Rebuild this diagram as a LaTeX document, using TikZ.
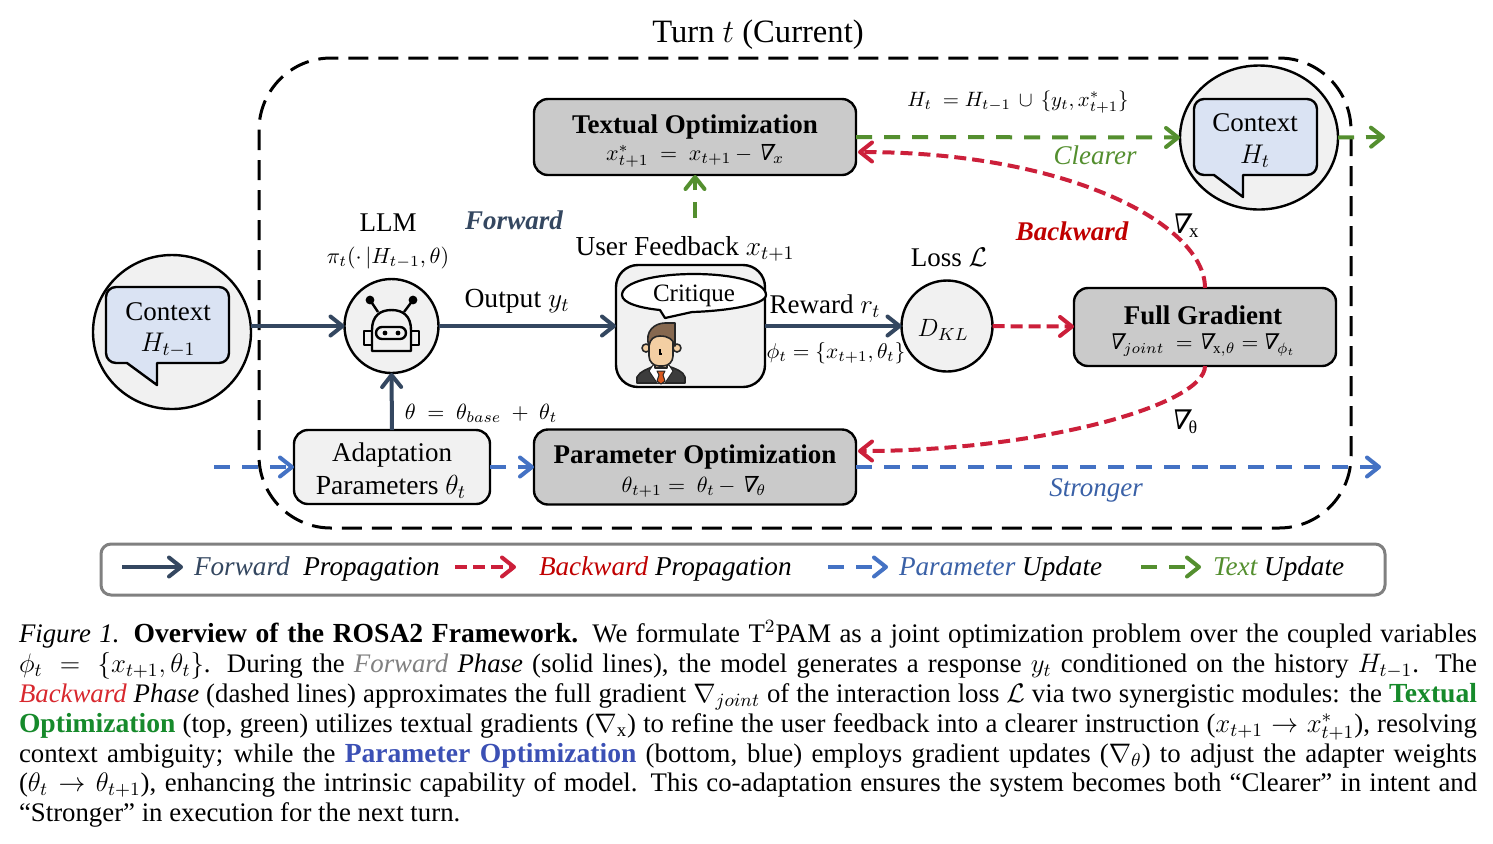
\RequirePackage{fix-cm}
\documentclass[tikz,border=0pt]{standalone}
\usepackage{fontspec}
\setmainfont{Liberation Serif}
\newfontfamily\nablaf[FakeSlant=0.22]{DejaVu Serif}
\usetikzlibrary{arrows.meta,shapes.geometric}
\definecolor{navy}{HTML}{344760}
\definecolor{redline}{HTML}{CC1F3A}
\definecolor{blueline}{HTML}{4472C4}
\definecolor{greenline}{HTML}{548F2F}
\definecolor{boxgray}{HTML}{CACACA}
\definecolor{softgray}{HTML}{F1F1F1}
\definecolor{bubbleblue}{HTML}{DAE3F3}
\definecolor{backred}{HTML}{C00000}
\definecolor{capgreen}{HTML}{168A2B}
\definecolor{capblue}{HTML}{3B50B5}
\definecolor{capred}{HTML}{D8282E}
\definecolor{capgray}{HTML}{808080}
\definecolor{skin}{HTML}{F3CFA3}
\definecolor{hair}{HTML}{86684F}
\definecolor{suit}{HTML}{3C3C3C}
\definecolor{tie}{HTML}{D9591F}
\newcommand{\fs}[1]{\fontsize{#1}{#1}\selectfont}
\newcommand{\gradsym}{\mbox{\nablaf\char"2207}}
\newcommand{\capline}[1]{\hbox to 729pt{#1}}
\newcommand{\capb}[1]{{\fs{13.8}\bfseries #1}}
\tikzset{
  tiphead/.style={-{Straight Barb[length=6pt,width=9.5pt,line width=2pt,round]}},
  fw/.style={tiphead,draw=navy,line width=2pt},
  backline/.style={tiphead,draw=redline,line width=2pt,dash pattern=on 6pt off 3pt},
  paramline/.style={tiphead,draw=blueline,line width=2pt,dash pattern=on 8pt off 6pt},
  txtline/.style={tiphead,draw=greenline,line width=2pt,dash pattern=on 8pt off 6pt},
  softbox/.style={draw=black,line width=1.2pt,fill=softgray,rounded corners=7pt,inner sep=0pt,outer sep=0pt},
  graybox/.style={draw=black,line width=1.2pt,fill=boxgray,rounded corners=7pt,inner sep=0pt,outer sep=0pt},
  disc/.style={draw=black,line width=1.2pt,fill=softgray,circle,inner sep=0pt,outer sep=0pt},
  oval/.style={draw=black,line width=1.2pt,fill=softgray,ellipse,inner sep=0pt,outer sep=0pt},
  bubble/.style={draw=black,line width=1.2pt,fill=bubbleblue,line join=round},
  lbl/.style={inner sep=0pt,outer sep=0pt,font=\fs{13.5}},
  lblsm/.style={inner sep=0pt,outer sep=0pt,font=\fs{11}},
  boxhead/.style={inner sep=0pt,outer sep=0pt,font=\fs{13.5}\bfseries},
  capnode/.style={inner sep=0pt,outer sep=0pt,anchor=base west,font=\fs{13.4}},
  legnode/.style={inner sep=0pt,outer sep=0pt,anchor=base west,font=\fs{13.6}\itshape},
  robot/.style={draw=black,line width=1.2pt,fill=softgray,line join=round},
  person/.style={draw=black!85,line width=.8pt,line join=round}
}
\begin{document}
\begin{tikzpicture}[x=.5pt,y=-.5pt]
\useasboundingbox (0,0) rectangle (1493,843);
\fill[white] (0,0) rectangle (1493,843);

% turn frame and its title
\draw[black,line width=1.5pt,dash pattern=on 10pt off 5pt,rounded corners=36pt] (259,58) rectangle (1351,528);
\node[lbl,font=\fs{16.3}] (title) at (758,35) {Turn $t$ (Current)};

% nodes of the loop
\node[oval,minimum width=79pt,minimum height=77pt] (ctxL) at (172,332) {};
\node[oval,minimum width=79pt,minimum height=72pt] (ctxR) at (1259,137.5) {};
\node[disc,minimum size=47pt] (llm) at (391.5,326) {};
\node[disc,minimum size=45.5pt] (loss) at (947,326) {};
\node[softbox,minimum width=98pt,minimum height=37pt] (adapt) at (392,467) {};
\node[softbox,rounded corners=11pt,minimum width=74.5pt,minimum height=61pt] (user) at (690.5,326) {};
\node[graybox,minimum width=161pt,minimum height=38pt] (tb) at (695,137) {};
\node[graybox,minimum width=161pt,minimum height=37.5pt] (po) at (695,467) {};
\node[graybox,minimum width=131pt,minimum height=39pt] (fg) at (1205,327) {};

\coordinate (greenOut) at (1385,137);
\coordinate (blueIn) at (214,467);
\coordinate (blueOut) at (1381,467);
\coordinate (feedUp) at (695,218);
\coordinate (txtIn) at (858,152);
\coordinate (parIn) at (858,451);

% connectors
\draw[fw] (llm -| ctxL.east) -- (llm);
\draw[fw] (llm) -- (user);
\draw[fw] (user) -- (loss);
\draw[fw] (adapt.north) -- (llm.south);
\draw[backline] (loss) -- (fg);
\draw[backline] (fg.north) .. controls (1205,225) and (1070,152) .. (txtIn);
\draw[backline] (fg.south) .. controls (1205,405) and (1040,451) .. (parIn);
\draw[txtline] (tb.east) -- (ctxR.west);
\draw[txtline] (ctxR.east) -- (greenOut);
\draw[txtline] (feedUp) -- (tb.south);
\draw[paramline] (blueIn) -- (adapt.west);
\draw[paramline] (adapt.east) -- (po.west);
\draw[paramline] (po.east) -- (blueOut);

% speech bubbles of the context nodes
\draw[bubble] (127,363) [rounded corners=5pt] -- (106,363) -- (106,287) -- (229,287) -- (229,363) -- (200,363) [sharp corners] -- (157,363) -- (157,385) -- cycle;
\draw[bubble] (1214,175) [rounded corners=5pt] -- (1194,175) -- (1194,99) -- (1317,99) -- (1317,175) -- (1290,175) [sharp corners] -- (1243,175) -- (1243,197) -- cycle;
\node[lbl] (ctxLa) at (168,312) {Context};
\node[lbl] (ctxLb) at (168,345) {$H_{t-1}$};
\node[lbl] (ctxRa) at (1255,123) {Context};
\node[lbl] (ctxRb) at (1255,156) {$H_t$};

% robot icon inside the model node
\draw[black,line width=1.2pt] (378,312) -- (370,300) (404,312) -- (413,300);
\fill[black] (370,300) circle (2.2pt) (413,300) circle (2.2pt);
\draw[robot] (364,331) rectangle (372,345);
\draw[robot] (411,331) rectangle (419,345);
\draw[robot] (372,351) -- (372,330) .. controls (372,316) and (380,310) .. (391.5,310) .. controls (403,310) and (411,316) .. (411,330) -- (411,351) -- cycle;
\draw[robot,rounded corners=3pt] (376,327) rectangle (406,339);
\fill[black] (385,333) circle (1.2pt) (398,333) circle (1.2pt);

% critique balloon and person inside the feedback node
\draw[draw=black,line width=1.1pt,fill=white,line join=round] (660,310) .. controls (640,308) and (622,303) .. (622,295) .. controls (622,282) and (655,274) .. (694,274) .. controls (733,274) and (766,282) .. (766,295) .. controls (766,305) and (725,311) .. (692,312) -- (665,318) -- cycle;
\node[lbl,font=\fs{12.5}] (crit) at (694,296) {Critique};
\draw[person,fill=suit] (637,383) -- (637,377) .. controls (640,371) and (648,369) .. (654,366) -- (668,366) .. controls (676,369) and (683,371) .. (685,377) -- (685,383) -- cycle;
\draw[person,fill=white,line width=.5pt] (653,365) -- (649,371) -- (657,383) -- (665,383) -- (673,371) -- (669,365) -- cycle;
\draw[person,fill=tie,line width=.5pt] (657,371) -- (665,371) -- (663,375) -- (665,381) -- (661,384) -- (657,381) -- (659,375) -- cycle;
\draw[person,fill=skin] (655,358) rectangle (667,368);
\draw[person,fill=skin] (646,348) circle (2pt) (677,348) circle (2pt);
\draw[person,fill=skin,rounded corners=5pt] (649,332) rectangle (673,366);
\draw[person,fill=hair] (649,346) .. controls (644,331) and (655,323) .. (665,323) -- (675,323) -- (675,346) .. controls (673,339) and (668,336) .. (660,336) .. controls (654,336) and (650,339) .. (649,346) -- cycle;
\draw[black,line width=.6pt] (660,349) -- (660,354) -- (662,354);

% labels of the upper row
\node[lbl] (llmName) at (388,223) {LLM};
\node[lblsm] (llmPol) at (388,258) {$\pi_t(\cdot\,|H_{t-1},\theta)$};
\node[lbl,font=\fs{13.5}\bfseries\itshape,text=navy] (fwName) at (514,220) {Forward};
\node[lbl,font=\fs{13.5}\bfseries\itshape,text=backred] (bwName) at (1072,231) {Backward};
\node[lbl,font=\fs{13.7}] (userName) at (685,249) {User Feedback $x_{t+1}$};
\node[lbl,font=\fs{13.8}] (outName) at (517,301) {Output $y_t$};
\node[lbl] (rewName) at (825,306) {Reward $r_t$};
\node[lblsm,font=\fs{10.7}] (phiName) at (836,353) {$\phi_t=\{x_{t+1},\theta_t\}$};
\node[lbl] (lossName) at (949,257) {Loss $\mathcal{L}$};
\node[lbl,font=\fs{12.5}] (klName) at (943,330) {$D_{KL}$};
\node[lbl] (gradX) at (1185,226) {\gradsym$_{\mathrm{x}}$};
\node[lbl] (gradT) at (1184,422) {\gradsym$_{\mbox{\fs{9}\rmfamily θ}}$};
\node[lbl,font=\fs{13.5}\itshape,text=greenline] (clearer) at (1095,155) {Clearer};
\node[lbl,font=\fs{13.5}\itshape,text=blueline!85!black] (stronger) at (1096,490) {Stronger};
\node[lblsm,font=\fs{10.4}] (histEq) at (1018,102) {$H_t\ =H_{t-1}\,\cup\,\{y_t,x^*_{t+1}\}$};
\node[lblsm] (thetaEq) at (481,413) {$\theta\ =\ \theta_{base}\ +\ \theta_t$};

% box captions
\node[lbl] (adaptA) at (392,455) {Adaptation};
\node[lbl,font=\fs{13.8}] (adaptB) at (391,487) {Parameters $\theta_t$};
\node[boxhead] (tbName) at (695,127) {Textual Optimization};
\node[lblsm] (tbEq) at (695,156) {$x^*_{t+1}\ =\ x_{t+1}\,-\ $\gradsym$_x$};
\node[boxhead] (poName) at (695,457) {Parameter Optimization};
\node[lblsm] (poEq) at (694,487) {$\theta_{t+1}=\ \theta_t\,-\ $\gradsym$_\theta$};
\node[boxhead] (fgName) at (1203,315) {Full Gradient};
\node[lblsm,font=\fs{10.8}] (fgEq) at (1202,345) {\gradsym$_{joint}\ =\ $\gradsym$_{\mathrm{x},\theta}=\,$\gradsym$_{\phi_t}$};

% legend
\draw[draw=black!50,line width=1.5pt,rounded corners=5pt] (101,544) rectangle (1385,595);
\coordinate (lgA) at (122,567); \coordinate (lgAe) at (183,567);
\coordinate (lgB) at (455,567); \coordinate (lgBe) at (516,567);
\coordinate (lgC) at (828,567); \coordinate (lgCe) at (888,567);
\coordinate (lgD) at (1141,567); \coordinate (lgDe) at (1201,567);
\draw[fw] (lgA) -- (lgAe);
\draw[backline] (lgB) -- (lgBe);
\draw[paramline] (lgC) -- (lgCe);
\draw[txtline] (lgD) -- (lgDe);
\node[legnode] (lgFwd) at (194,575) {\textcolor{navy}{Forward}\ \ Propagation};
\node[legnode] (lgBwd) at (539,575) {\textcolor{backred}{Backward} Propagation};
\node[legnode] (lgPar) at (899,575) {\textcolor{blueline!85!black}{Parameter} Update};
\node[legnode] (lgTxt) at (1213,575) {\textcolor{greenline}{Text}\ Update};

% figure caption, one node per printed line
\node[capnode] (c1) at (19,642) {\capline{\textit{Figure 1.} \capb{Overview of the ROSA2 Framework.} We formulate T$^2$PAM as a joint optimization problem over the coupled variables}};
\node[capnode] (c2) at (19,672) {\capline{$\phi_t\,=\,\{x_{t+1},\theta_t\}$. During the \textcolor{capgray}{\textit{Forward}} \textit{Phase} (solid lines), the model generates a response $y_t$ conditioned on the history $H_{t-1}$. The}};
\node[capnode] (c3) at (19,702) {\capline{\textcolor{capred}{\textit{Backward}} \textit{Phase} (dashed lines) approximates the full gradient $\nabla_{joint}$ of the interaction loss $\mathcal{L}$ via two synergistic modules: the \textcolor{capgreen}{\capb{Textual}}}};
\node[capnode] (c4) at (19,732) {\capline{\textcolor{capgreen}{\capb{Optimization}} (top, green) utilizes textual gradients ($\nabla_{\mathrm{x}}$) to refine the user feedback into a clearer instruction ($x_{t+1}\to x^*_{t+1}$), resolving}};
\node[capnode] (c5) at (19,762) {\capline{context ambiguity; while the \textcolor{capblue}{\capb{Parameter Optimization}} (bottom, blue) employs gradient updates ($\nabla_\theta$) to adjust the adapter weights}};
\node[capnode] (c6) at (19,791) {\capline{($\theta_t\to\theta_{t+1}$), enhancing the intrinsic capability of model. This co-adaptation ensures the system becomes both “Clearer” in intent and}};
\node[capnode] (c7) at (19,821) {“Stronger” in execution for the next turn.};
\end{tikzpicture}
\end{document}
